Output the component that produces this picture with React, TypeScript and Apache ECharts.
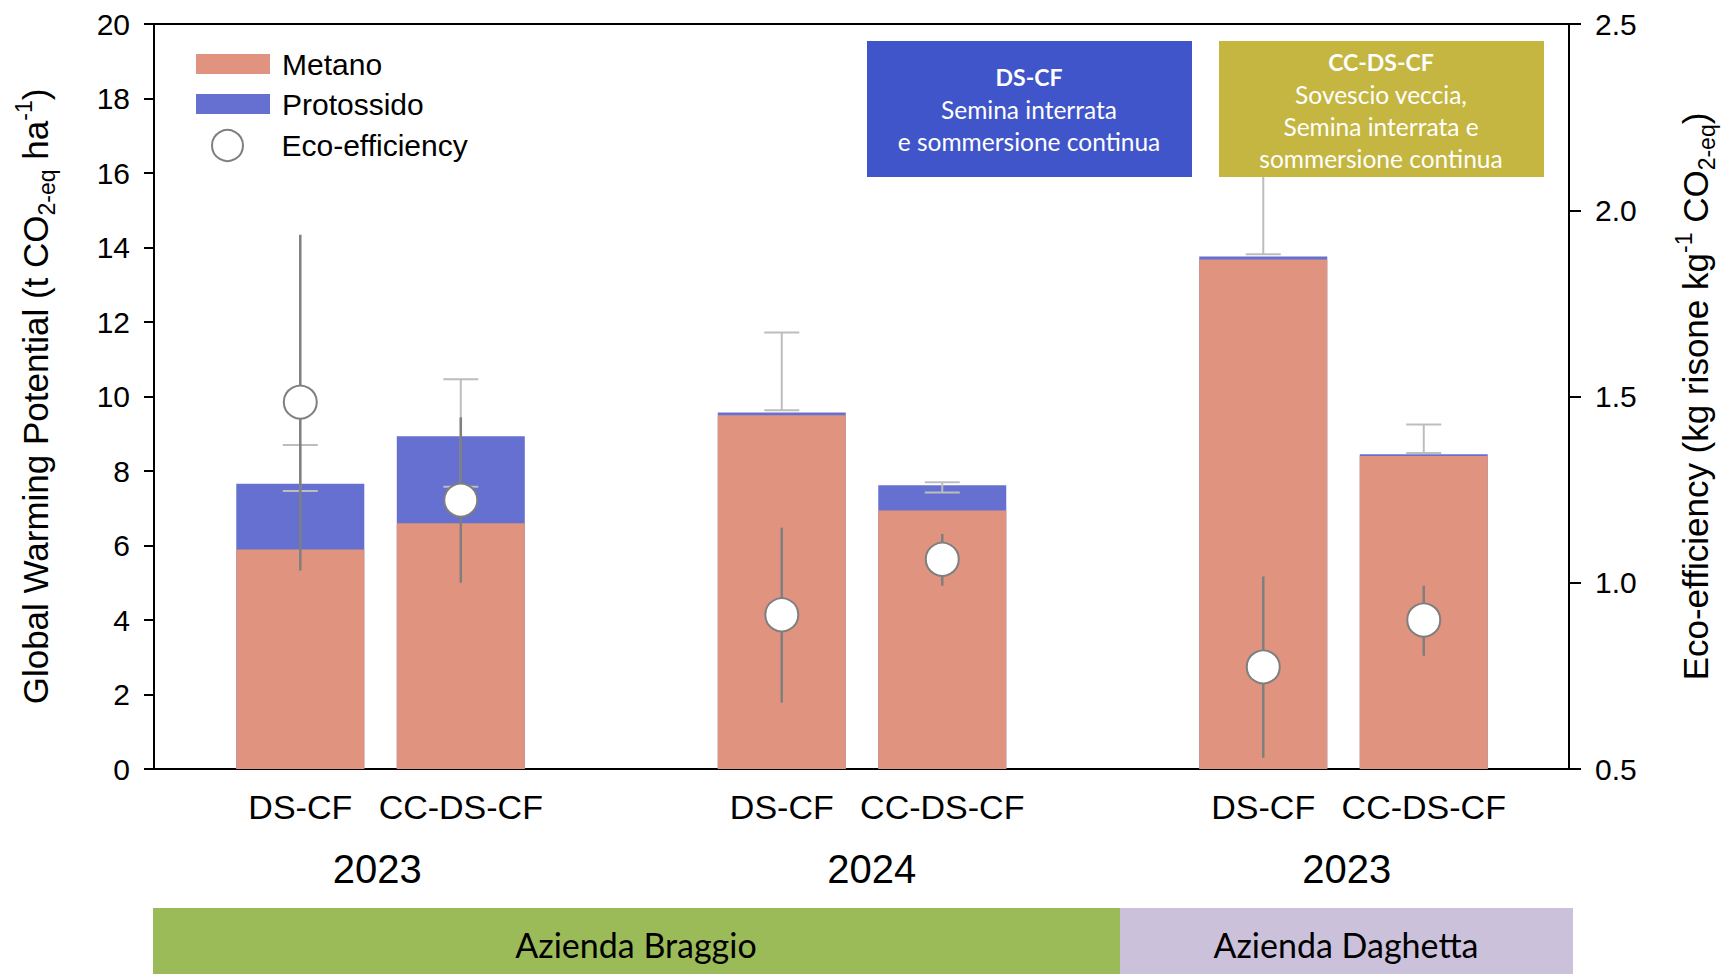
import React, { useEffect, useRef } from 'react';
import * as echarts from 'echarts';

// ---- data ----
const treatments = ['DS-CF', 'CC-DS-CF', 'DS-CF', 'CC-DS-CF', 'DS-CF', 'CC-DS-CF'];
const positions = [1, 2, 4, 5, 7, 8];
const years = ['2023', '2024', '2023'];
const yearPositions = [1.48, 4.56, 7.52];
const farms = ['Azienda Braggio', 'Azienda Daghetta'];

const metano = [5.89, 6.6, 9.5, 6.94, 13.68, 8.4];
const protossido = [1.77, 2.33, 0.07, 0.68, 0.08, 0.05];
const gwpErrLow = [7.46, 7.58, 9.63, 7.42, 13.82, 8.48];
const gwpErrHigh = [8.7, 10.46, 11.72, 7.7, 16.5, 9.25];
const eco = [1.485, 1.222, 0.914, 1.063, 0.774, 0.9];
const ecoErrLow = [1.033, 1.0, 0.678, 0.992, 0.53, 0.804];
const ecoErrHigh = [1.934, 1.444, 1.148, 1.131, 1.017, 0.992];

const gwpTicks = { min: 0, max: 20, interval: 2 };
const ecoTicks = { min: 0.5, max: 2.5, interval: 0.5 };

const AX_FONT = 'Liberation Sans, Arial, sans-serif';
const BOX_FONT = 'Lato, "Open Sans", sans-serif';

export default function App() {
  const ref = useRef<HTMLDivElement>(null);

  useEffect(() => {
    if (!ref.current) return;
    const chart = echarts.init(ref.current, null, { renderer: 'svg' });

    const nearestLabel = (val: number, pos: number[], labels: string[]) => {
      let best = 0;
      let d = Infinity;
      pos.forEach((p, i) => {
        if (Math.abs(p - val) < d) {
          d = Math.abs(p - val);
          best = i;
        }
      });
      return d < 0.2 ? labels[best] : '';
    };

    const errBar = (color: string, width: number, cap: number) =>
      (params: any, api: any) => {
        const x = api.value(0);
        const lo = api.coord([x, api.value(1)]);
        const hi = api.coord([x, api.value(2)]);
        const style = { stroke: color, lineWidth: width };
        const children: any[] = [
          { type: 'line', shape: { x1: lo[0], y1: lo[1], x2: hi[0], y2: hi[1] }, style },
        ];
        if (cap > 0) {
          children.push(
            { type: 'line', shape: { x1: lo[0] - cap, y1: lo[1], x2: lo[0] + cap, y2: lo[1] }, style },
            { type: 'line', shape: { x1: hi[0] - cap, y1: hi[1], x2: hi[0] + cap, y2: hi[1] }, style }
          );
        }
        return { type: 'group', children };
      };

    const xMin = 0.0885;
    const xMax = 8.905;

    // stacked total (metano + protossido): protossido segment shows above metano
    const totals = metano.map((m, i) => m + protossido[i]);

    const legendText = (pad: number) => ({
      fontFamily: AX_FONT,
      fontSize: 30,
      color: '#000',
      padding: [0, 0, 0, pad],
    });

    const option: any = {
      animation: false,
      backgroundColor: '#ffffff',
      grid: {
        left: 154,
        right: 162,
        top: 24,
        bottom: 205,
        show: true,
        borderColor: '#000',
        borderWidth: 2,
        backgroundColor: 'transparent',
      },
      legend: [
        {
          data: ['Metano', 'Protossido'],
          orient: 'vertical',
          left: 191,
          top: 44,
          itemWidth: 74,
          itemHeight: 20,
          itemGap: 10,
          icon: 'rect',
          selectedMode: false,
          textStyle: legendText(7),
        },
        {
          data: ['Eco-efficiency'],
          orient: 'vertical',
          left: 206,
          top: 124,
          itemWidth: 74,
          itemHeight: 31,
          selectedMode: false,
          textStyle: legendText(12),
        },
      ],
      xAxis: [
        {
          type: 'value',
          min: xMin,
          max: xMax,
          splitLine: { show: false },
          axisLine: { show: true, lineStyle: { color: '#000', width: 2 } },
          axisTick: { show: false },
          axisLabel: {
            customValues: positions,
            formatter: (v: number) => nearestLabel(v, positions, treatments),
            fontFamily: AX_FONT,
            fontSize: 34,
            color: '#000',
            margin: 21,
          },
        },
        {
          type: 'value',
          min: xMin,
          max: xMax,
          position: 'bottom',
          splitLine: { show: false },
          axisLine: { show: false },
          axisTick: { show: false },
          axisLabel: {
            customValues: yearPositions,
            formatter: (v: number) => nearestLabel(v, yearPositions, years),
            fontFamily: AX_FONT,
            fontSize: 40,
            color: '#000',
            margin: 80,
          },
        },
      ],
      yAxis: [
        {
          type: 'value',
          min: gwpTicks.min,
          max: gwpTicks.max,
          interval: gwpTicks.interval,
          position: 'left',
          splitLine: { show: false },
          axisLine: { show: true, lineStyle: { color: '#000', width: 2 } },
          axisTick: { show: true, length: 10, inside: false, lineStyle: { color: '#000', width: 2 } },
          axisLabel: { fontFamily: AX_FONT, fontSize: 30, color: '#000', margin: 24 },
          name: 'Global Warming Potential (t CO{sub|2-eq} ha{sup|-1})',
          nameLocation: 'middle',
          nameRotate: 90,
          nameGap: 96,
          nameTextStyle: {
            fontFamily: AX_FONT,
            fontSize: 35,
            color: '#000',
            lineHeight: 46,
            rich: {
              sub: { fontFamily: AX_FONT, fontSize: 23, color: '#000', lineHeight: 23, verticalAlign: 'bottom' },
              sup: { fontFamily: AX_FONT, fontSize: 23, color: '#000', lineHeight: 23, verticalAlign: 'top' },
            },
          },
        },
        {
          type: 'value',
          min: ecoTicks.min,
          max: ecoTicks.max,
          interval: ecoTicks.interval,
          position: 'right',
          splitLine: { show: false },
          axisLine: { show: true, lineStyle: { color: '#000', width: 2 } },
          axisTick: { show: true, length: 12, inside: false, lineStyle: { color: '#000', width: 2 } },
          axisLabel: {
            fontFamily: AX_FONT,
            fontSize: 30,
            color: '#000',
            margin: 26,
            formatter: (v: number) => v.toFixed(1),
          },
          name: 'Eco-efficiency (kg risone kg{sup|-1} CO{sub|2-eq})',
          nameLocation: 'middle',
          nameRotate: 90,
          nameGap: 103,
          nameTextStyle: {
            fontFamily: AX_FONT,
            fontSize: 35,
            color: '#000',
            lineHeight: 46,
            rich: {
              sub: { fontFamily: AX_FONT, fontSize: 23, color: '#000', lineHeight: 23, verticalAlign: 'bottom' },
              sup: { fontFamily: AX_FONT, fontSize: 23, color: '#000', lineHeight: 23, verticalAlign: 'top' },
            },
          },
        },
      ],
      series: [
        {
          name: 'Protossido',
          type: 'bar',
          barWidth: 128,
          barGap: '-100%',
          xAxisIndex: 0,
          yAxisIndex: 0,
          itemStyle: { color: '#6570D0' },
          data: positions.map((p, i) => [p, totals[i]]),
          z: 2,
        },
        {
          name: 'Metano',
          type: 'bar',
          barWidth: 128,
          barGap: '-100%',
          xAxisIndex: 0,
          yAxisIndex: 0,
          itemStyle: { color: '#E0937E' },
          data: positions.map((p, i) => [p, metano[i]]),
          z: 2,
        },
        {
          name: 'gwpErr',
          type: 'custom',
          xAxisIndex: 0,
          yAxisIndex: 0,
          renderItem: errBar('#BDBDBD', 2, 17.5),
          encode: { x: 0, y: [1, 2] },
          data: positions.map((p, i) => [p, gwpErrLow[i], gwpErrHigh[i]]),
          silent: true,
          z: 3,
        },
        {
          name: 'ecoErr',
          type: 'custom',
          xAxisIndex: 0,
          yAxisIndex: 1,
          renderItem: errBar('#7F7F7F', 2.5, 0),
          encode: { x: 0, y: [1, 2] },
          data: positions.map((p, i) => [p, ecoErrLow[i], ecoErrHigh[i]]),
          silent: true,
          z: 4,
        },
        {
          name: 'Eco-efficiency',
          type: 'scatter',
          xAxisIndex: 0,
          yAxisIndex: 1,
          symbol: 'circle',
          symbolSize: 33,
          itemStyle: { color: '#FFFFFF', borderColor: '#7F7F7F', borderWidth: 2, opacity: 1 },
          data: positions.map((p, i) => [p, eco[i]]),
          z: 5,
        },
      ],
      graphic: [
        // treatment description boxes
        { type: 'rect', z: 100, shape: { x: 867, y: 41, width: 325, height: 136 }, style: { fill: '#3F55C9' } },
        { type: 'text', z: 101, x: 1029, y: 77, style: { text: 'DS-CF', fill: '#fff', font: `bold 23px ${BOX_FONT}`, align: 'center', verticalAlign: 'middle' } },
        { type: 'text', z: 101, x: 1029, y: 109, style: { text: 'Semina interrata', fill: '#fff', font: `24.5px ${BOX_FONT}`, align: 'center', verticalAlign: 'middle' } },
        { type: 'text', z: 101, x: 1029, y: 141, style: { text: 'e sommersione continua', fill: '#fff', font: `24.5px ${BOX_FONT}`, align: 'center', verticalAlign: 'middle' } },

        { type: 'rect', z: 100, shape: { x: 1219, y: 41, width: 325, height: 136 }, style: { fill: '#C4B640' } },
        { type: 'text', z: 101, x: 1381, y: 62, style: { text: 'CC-DS-CF', fill: '#fff', font: `bold 23px ${BOX_FONT}`, align: 'center', verticalAlign: 'middle' } },
        { type: 'text', z: 101, x: 1381, y: 94, style: { text: 'Sovescio veccia,', fill: '#fff', font: `24.5px ${BOX_FONT}`, align: 'center', verticalAlign: 'middle' } },
        { type: 'text', z: 101, x: 1381, y: 126, style: { text: 'Semina interrata e', fill: '#fff', font: `24.5px ${BOX_FONT}`, align: 'center', verticalAlign: 'middle' } },
        { type: 'text', z: 101, x: 1381, y: 158, style: { text: 'sommersione continua', fill: '#fff', font: `24.5px ${BOX_FONT}`, align: 'center', verticalAlign: 'middle' } },

        // farm banners
        { type: 'rect', z: 100, shape: { x: 153, y: 908, width: 967, height: 66 }, style: { fill: '#9BBB59' } },
        { type: 'text', z: 101, x: 636, y: 944, style: { text: farms[0], fill: '#000', font: `34px ${BOX_FONT}`, align: 'center', verticalAlign: 'middle' } },
        { type: 'rect', z: 100, shape: { x: 1120, y: 908, width: 453, height: 66 }, style: { fill: '#CCC1DB' } },
        { type: 'text', z: 101, x: 1346, y: 944, style: { text: farms[1], fill: '#000', font: `34px ${BOX_FONT}`, align: 'center', verticalAlign: 'middle' } },
      ],
    };

    chart.setOption(option);
    return () => chart.dispose();
  }, []);

  return (
    <div
      ref={ref}
      style={{ position: 'fixed', left: 0, top: 0, width: 1731, height: 974, background: '#fff' }}
    />
  );
}
